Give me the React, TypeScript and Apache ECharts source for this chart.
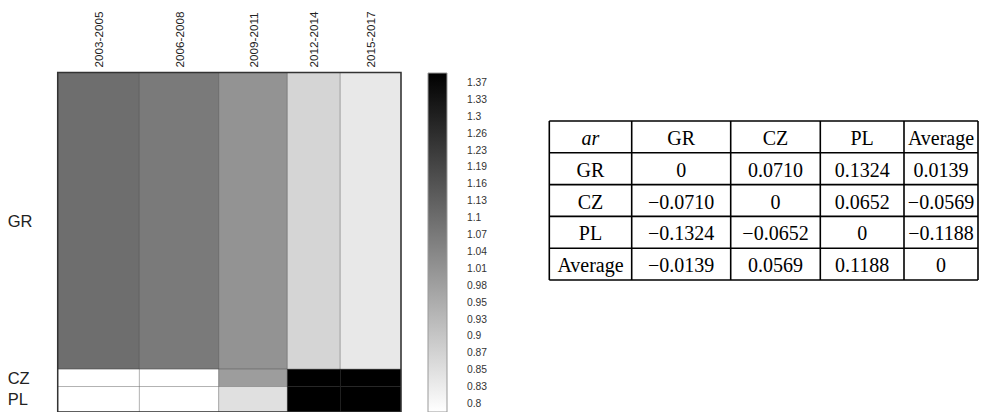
import React, { useEffect, useRef } from 'react';
import * as echarts from 'echarts';

// ---- heatmap data ----
const periods = ['2003-2005', '2006-2008', '2009-2011', '2012-2014', '2015-2017'];
const periodWeights = [0.238, 0.231, 0.2, 0.154, 0.177];
const countries = ['GR', 'CZ', 'PL'];
const countryWeights = [0.874, 0.051, 0.075];
const grValues = [1.096, 1.068, 1.009, 0.866, 0.836];
const czValues = [0.78, 0.78, 0.986, 1.39, 1.39];
const plValues = [0.78, 0.78, 0.849, 1.39, 1.39];

// ---- colour bar ticks ----
const colorbarTicks = [1.37, 1.33, 1.3, 1.26, 1.23, 1.19, 1.16, 1.13, 1.1, 1.07, 1.04, 1.01, 0.98, 0.95, 0.93, 0.9, 0.87, 0.85, 0.83, 0.8];

// ---- table ----
const tableHeader = ['ar', 'GR', 'CZ', 'PL', 'Average'];
const tableRowLabels = ['GR', 'CZ', 'PL', 'Average'];
const arGR = [0, 0.071, 0.1324, 0.0139];
const arCZ = [-0.071, 0, 0.0652, -0.0569];
const arPL = [-0.1324, -0.0652, 0, -0.1188];
const arAverage = [-0.0139, 0.0569, 0.1188, 0];

const rowValues = [grValues, czValues, plValues];
const tableRows = [arGR, arCZ, arPL, arAverage];

function cumulative(w: number[]) {
  const out: number[] = [];
  let s = 0;
  for (const v of w) { out.push(s); s += v; }
  return out;
}

function grayFor(v: number) {
  const t = colorbarTicks;
  const n = t.length;
  let p = 0;
  if (v >= t[0]) p = -(v - t[0]) / (t[0] - t[1]);
  else if (v <= t[n - 1]) p = n - 1 + (t[n - 1] - v) / (t[n - 2] - t[n - 1]);
  else {
    for (let i = 0; i < n - 1; i++) {
      if (v <= t[i] && v >= t[i + 1]) { p = i + (t[i] - v) / (t[i] - t[i + 1]); break; }
    }
  }
  let f = (p + 0.5) / n;
  f = Math.max(0, Math.min(1, f));
  const g = Math.round(f * 255);
  return `rgb(${g},${g},${g})`;
}

function fmt(v: number) {
  if (v === 0) return '0';
  return (v < 0 ? '\u2212' : '') + Math.abs(v).toFixed(4);
}

export default function App() {
  const ref = useRef<HTMLDivElement>(null);
  useEffect(() => {
    if (!ref.current) return;
    const chart = echarts.init(ref.current, null, { renderer: 'svg' });

    const colStarts = cumulative(periodWeights);
    const rowStarts = cumulative(countryWeights);
    const colCenters = colStarts.map((s, i) => s + periodWeights[i] / 2);
    const rowCenters = rowStarts.map((s, i) => s + countryWeights[i] / 2);

    const cells: number[][] = [];
    rowValues.forEach((vals, r) => {
      vals.forEach((v, c) => {
        cells.push([colStarts[c], colStarts[c] + periodWeights[c], rowStarts[r], rowStarts[r] + countryWeights[r], v]);
      });
    });

    const nearest = (arr: number[], v: number) => {
      let bi = 0, bd = Infinity;
      arr.forEach((a, i) => { const d = Math.abs(a - v); if (d < bd) { bd = d; bi = i; } });
      return bi;
    };

    // table graphic
    const tLeft = 549.3, tTop = 121;
    const colW = [82.4, 99, 89.6, 83.7, 74];
    const rowH = 31.8;
    const colX = cumulative(colW);
    const tW = colW.reduce((a, b) => a + b, 0);
    const nRows = tableRows.length + 1;
    const tH = rowH * nRows;
    const tableEls: any[] = [];
    for (let r = 0; r <= nRows; r++) {
      tableEls.push({ type: 'line', shape: { x1: 0, y1: r * rowH, x2: tW, y2: r * rowH }, style: { stroke: '#000', lineWidth: 1.6 } });
    }
    for (let c = 0; c <= colW.length; c++) {
      const x = c < colW.length ? colX[c] : tW;
      tableEls.push({ type: 'line', shape: { x1: x, y1: 0, x2: x, y2: tH }, style: { stroke: '#000', lineWidth: 1.6 } });
    }
    const addText = (text: string, c: number, r: number, italic = false) => {
      tableEls.push({
        type: 'text',
        x: colX[c] + colW[c] / 2,
        y: r * rowH + rowH / 2 + 1,
        style: { text, fill: '#000', fontSize: 20, fontFamily: 'Liberation Serif', fontStyle: italic ? 'italic' : 'normal', align: 'center', verticalAlign: 'middle' },
      });
    };
    tableHeader.forEach((h, c) => addText(h, c, 0, c === 0));
    tableRowLabels.forEach((lab, r) => {
      addText(lab, 0, r + 1);
      tableRows[r].forEach((v, c) => addText(fmt(v), c + 1, r + 1));
    });

    chart.setOption({
      animation: false,
      backgroundColor: '#fff',
      grid: [
        { left: 57.7, top: 72.5, width: 343.3, height: 339.8, show: true, z: 10, backgroundColor: 'transparent', borderColor: '#333', borderWidth: 1.5 },
        { left: 428, top: 74, width: 19, height: 340 },
      ],
      xAxis: [
        {
          type: 'value', gridIndex: 0, min: 0, max: 1, position: 'top',
          axisLine: { show: false }, axisTick: { show: false }, splitLine: { show: false },
          axisLabel: {
            customValues: colCenters, rotate: 90, margin: 5, fontSize: 11.7, color: '#222', fontFamily: 'Liberation Sans',
            formatter: (v: number) => periods[nearest(colCenters, v)],
          },
        },
        { type: 'value', gridIndex: 1, show: false, min: 0, max: 1 },
      ],
      yAxis: [
        {
          type: 'value', gridIndex: 0, min: 0, max: 1, inverse: true,
          axisLine: { show: false }, axisTick: { show: false }, splitLine: { show: false },
          axisLabel: {
            customValues: rowCenters, align: 'left', margin: 50, fontSize: 16.5, color: '#222', fontFamily: 'Liberation Sans',
            formatter: (v: number) => countries[nearest(rowCenters, v)],
          },
        },
        {
          type: 'category', gridIndex: 1, inverse: true, position: 'right',
          data: colorbarTicks.map(String),
          axisLine: { show: false }, axisTick: { show: false }, splitLine: { show: false },
          axisLabel: { margin: 20, fontSize: 10.3, color: '#333', fontFamily: 'Liberation Sans', interval: 0 },
        },
      ],
      series: [
        {
          type: 'custom', xAxisIndex: 0, yAxisIndex: 0, data: cells,
          renderItem: (params: any, api: any) => {
            const p0 = api.coord([api.value(0), api.value(2)]);
            const p1 = api.coord([api.value(1), api.value(3)]);
            return {
              type: 'rect',
              shape: { x: p0[0], y: p0[1], width: p1[0] - p0[0], height: p1[1] - p0[1] },
              style: { fill: grayFor(api.value(4)), stroke: 'rgba(0,0,0,0.22)', lineWidth: 1 },
            };
          },
        },
        {
          type: 'custom', xAxisIndex: 1, yAxisIndex: 1, data: [[0, 0]],
          renderItem: (params: any) => {
            const cs = params.coordSys;
            return {
              type: 'rect',
              shape: { x: cs.x, y: cs.y - 1, width: cs.width, height: cs.height + 1 },
              style: {
                fill: new echarts.graphic.LinearGradient(0, 0, 0, 1, [
                  { offset: 0, color: '#000' },
                  { offset: 1, color: '#fff' },
                ]),
                stroke: '#999', lineWidth: 1,
              },
            };
          },
        },
      ],
      graphic: [{ type: 'group', x: tLeft, y: tTop, children: tableEls }],
    });
    return () => chart.dispose();
  }, []);
  return <div ref={ref} style={{ position: 'absolute', left: 0, top: 0, width: 984, height: 412 }} />;
}
